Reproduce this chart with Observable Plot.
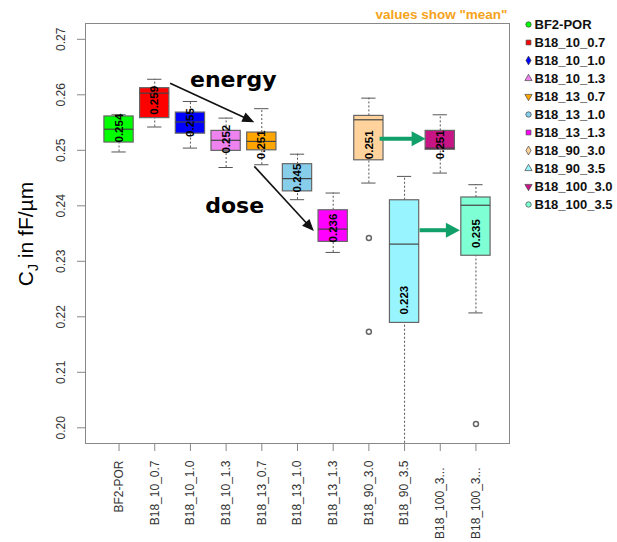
<!DOCTYPE html>
<html><head><meta charset="utf-8">
<script src="https://cdn.jsdelivr.net/npm/d3@7"></script>
<script src="https://cdn.jsdelivr.net/npm/@observablehq/plot@0.6"></script>
<style>
body{margin:0;background:#fff;}
#wrap{position:relative;width:617px;height:542px;overflow:hidden;font-family:"Liberation Sans",Arial,sans-serif;}
#wrap svg{position:absolute;overflow:visible;}
</style></head><body><div id="wrap"></div>
<script>
// ---- data ----
const groups = ["BF2-POR","B18_10_0.7","B18_10_1.0","B18_10_1.3","B18_13_0.7","B18_13_1.0","B18_13_1.3","B18_90_3.0","B18_90_3.5","B18_100_3.0","B18_100_3.5"];
const tickLabels = ["BF2-POR","B18_10_0.7","B18_10_1.0","B18_10_1.3","B18_13_0.7","B18_13_1.0","B18_13_1.3","B18_90_3.0","B18_90_3.5","B18_100_3...","B18_100_3..."];
const whiskerLow  = [0.2497,0.2542,0.2504,0.2469,0.2474,0.2411,0.2316,0.2441,0.1900,0.2459,0.2207];
const q1          = [0.2514,0.2558,0.2530,0.2499,0.2500,0.2426,0.2335,0.2482,0.2189,0.2501,0.2310];
const median      = [0.2538,0.2603,0.2551,0.2518,0.2516,0.2449,0.2358,0.2555,0.2331,0.2504,0.2401];
const q3          = [0.2561,0.2612,0.2568,0.2535,0.2532,0.2475,0.2392,0.2562,0.2410,0.2535,0.2415];
const whiskerHigh = [0.2564,0.2628,0.2588,0.2558,0.2575,0.2493,0.2423,0.2594,0.2453,0.2564,0.2438];
const means       = [0.254,0.259,0.255,0.252,0.251,0.245,0.236,0.251,0.223,0.251,0.235];
const colors = ["#00FF00","#FF0000","#0000FF","#EE82EE","#FFA500","#87CEEB","#FF00FF","#FFD39B","#98F5FF","#C71585","#7FFFD4"];
const outlierGroup = [8, 8, 11];
const outlierValue = [0.2342, 0.2173, 0.2007];
const legendSymbols = ["circle","square","diamond","triangle","triangle","circle","square","diamond","triangle","triangle","circle"];
const legendRotate  = [0,0,0,0,180,0,0,0,0,180,0];
const yTicks = [0.20,0.21,0.22,0.23,0.24,0.25,0.26,0.27];
// annotation arrows in data coordinates (x = group position, y = value)
const blackArrowX1 = [2.43, 4.79], blackArrowY1 = [0.2621, 0.2471];
const blackArrowX2 = [4.51, 6.25], blackArrowY2 = [0.2559, 0.2369];
const greenArrowX1 = [8.30, 9.42], greenArrowY1 = [0.2521, 0.2356];
const greenArrowX2 = [9.31, 10.27], greenArrowY2 = [0.2521, 0.2356];
const noteText = ["energy","dose"], noteX = [4.20, 4.24], noteY = [0.26275, 0.23995];

// ---- tables ----
const rows = groups.map((g,k)=>({i:k+1,g,lo:whiskerLow[k],q1:q1[k],med:median[k],q3:q3[k],hi:whiskerHigh[k],mean:means[k],color:colors[k]}));
const outliers = outlierGroup.map((i,k)=>({i, v:outlierValue[k]}));
const blackArrows = blackArrowX1.map((_,k)=>({x1:blackArrowX1[k],y1:blackArrowY1[k],x2:blackArrowX2[k],y2:blackArrowY2[k]}));
const greenArrows = greenArrowX1.map((_,k)=>({x1:greenArrowX1[k],y1:greenArrowY1[k],x2:greenArrowX2[k],y2:greenArrowY2[k]}));
const notes = noteText.map((t,k)=>({t,x:noteX[k],y:noteY[k]}));
const legendRows = groups.map((g,k)=>({g,symbol:legendSymbols[k],rot:legendRotate[k],color:colors[k]}));

const bw = 0.41, cw = 0.2;
const font = '"Liberation Sans",Arial,sans-serif';

const chart = Plot.plot({
  width:617, height:542, marginLeft:85, marginRight:108, marginTop:23, marginBottom:99,
  style:{fontFamily:font, fontSize:"12px", background:"transparent", overflow:"visible"},
  x:{domain:[0.06,11.94]},
  y:{domain:[0.19717,0.27285]},
  marks:[
    Plot.ruleX(rows,{x:"i",y1:"q3",y2:"hi",stroke:"#555",strokeDasharray:"2,2"}),
    Plot.ruleX(rows,{x:"i",y1:"lo",y2:"q1",stroke:"#555",strokeDasharray:"2,2",clip:true}),
    Plot.ruleY(rows,{y:"hi",x1:d=>d.i-cw,x2:d=>d.i+cw,stroke:"#555"}),
    Plot.ruleY(rows,{y:"lo",x1:d=>d.i-cw,x2:d=>d.i+cw,stroke:"#555",clip:true}),
    Plot.rect(rows,{x1:d=>d.i-bw,x2:d=>d.i+bw,y1:"q1",y2:"q3",fill:"color",stroke:"#666",strokeWidth:1.2}),
    Plot.ruleY(rows,{y:"med",x1:d=>d.i-bw,x2:d=>d.i+bw,stroke:"#444",strokeWidth:1.2}),
    Plot.dot(outliers,{x:"i",y:"v",r:2.5,stroke:"#666",fill:"none"}),
    Plot.text(rows,{x:"i",y:"mean",text:d=>d.mean.toFixed(3),rotate:-90,fontSize:11.5,fontWeight:"bold",fill:"#000"}),
    Plot.link(blackArrows,{x1:"x1",y1:"y1",x2:"x2",y2:"y2",stroke:"#111",strokeWidth:1.6}),
    Plot.link(greenArrows,{x1:"x1",y1:"y1",x2:"x2",y2:"y2",stroke:"#12A06A",strokeWidth:4}),
    Plot.text(notes,{x:"x",y:"y",text:"t",fontSize:22,fontWeight:"bold",fontFamily:"DejaVu Sans",fill:"#000"}),
    Plot.text(['values show "mean"'],{frameAnchor:"top-right",textAnchor:"end",lineAnchor:"bottom",dx:-2,dy:-5,fill:"#F5A31A",fontWeight:"bold",fontSize:13.5}),
    Plot.frame({stroke:"#888"}),
    Plot.axisY({ticks:yTicks,tickFormat:d3.format(".2f"),tickRotate:-90,tickSize:8,tickPadding:13,stroke:"#888",fill:"#333",label:null}),
    Plot.axisX({ticks:[1,2,3,4,5,6,7,8,9],tickFormat:i=>tickLabels[i-1],tickRotate:-90,tickSize:8,tickPadding:9,stroke:"#888",fill:"#333",label:null}),
    Plot.axisX({ticks:[10,11],tickFormat:i=>tickLabels[i-1],tickRotate:-90,tickSize:8,tickPadding:16,stroke:"#888",fill:"#333",label:null})
  ]
});
chart.style.left="0px"; chart.style.top="0px";
document.getElementById("wrap").appendChild(chart);

// custom filled arrowheads
const ns="http://www.w3.org/2000/svg";
const defs=document.createElementNS(ns,"defs");
function makeMarker(id,w,h,refX,color){
  const m=document.createElementNS(ns,"marker");
  m.setAttribute("id",id);
  m.setAttribute("markerUnits","userSpaceOnUse");
  m.setAttribute("markerWidth",w+2);
  m.setAttribute("markerHeight",h+2);
  m.setAttribute("refX",refX);
  m.setAttribute("refY",h/2);
  m.setAttribute("orient","auto");
  m.setAttribute("overflow","visible");
  const p=document.createElementNS(ns,"path");
  p.setAttribute("d",`M0,0L${w},${h/2}L0,${h}Z`);
  p.setAttribute("fill",color);
  p.setAttribute("stroke","none");
  m.appendChild(p);
  defs.appendChild(m);
}
makeMarker("hb",12,10,1,"#111");
makeMarker("hg",14,15,4,"#12A06A");
chart.insertBefore(defs, chart.firstChild);
const linkGroups=chart.querySelectorAll('g[aria-label="link"]');
if(linkGroups[0]) linkGroups[0].querySelectorAll("path").forEach(p=>p.setAttribute("marker-end","url(#hb)"));
if(linkGroups[1]) linkGroups[1].querySelectorAll("path").forEach(p=>p.setAttribute("marker-end","url(#hg)"));

// y axis title with subscript
const yl=document.createElementNS(ns,"text");
yl.setAttribute("transform","translate(33,234) rotate(-90)");
yl.setAttribute("text-anchor","middle");
yl.setAttribute("font-size","21");
yl.setAttribute("font-family",font);
yl.setAttribute("fill","#000");
const t1=document.createElementNS(ns,"tspan"); t1.textContent="C";
const t2=document.createElementNS(ns,"tspan"); t2.setAttribute("font-size","14"); t2.setAttribute("dy","5"); t2.textContent="J";
const t3=document.createElementNS(ns,"tspan"); t3.setAttribute("dy","-5"); t3.textContent=" in fF/µm";
yl.append(t1,t2,t3);
chart.appendChild(yl);

// legend
const legend = Plot.plot({
  width:97, height:200, margin:0,
  style:{fontFamily:font, background:"transparent", overflow:"visible"},
  y:{type:"point",domain:groups,padding:0.5,axis:null},
  marks:[
    Plot.dot(legendRows,{y:"g",frameAnchor:"left",dx:8,symbol:"symbol",rotate:"rot",fill:"color",stroke:"#444",strokeWidth:0.7,r:2.7}),
    Plot.text(legendRows,{y:"g",text:"g",frameAnchor:"left",dx:14,textAnchor:"start",fontSize:13,fontWeight:"bold",fill:"#111"})
  ]
});
legend.style.left="520px"; legend.style.top="13.6px";
document.getElementById("wrap").appendChild(legend);
</script></body></html>
